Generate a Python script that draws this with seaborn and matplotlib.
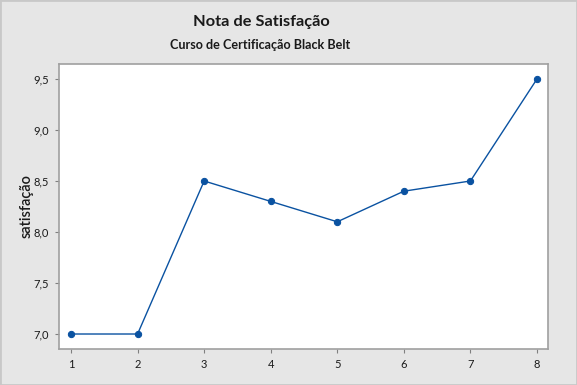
import matplotlib
matplotlib.use("Agg")
import matplotlib.pyplot as plt
import seaborn as sns
import pandas as pd
from matplotlib.ticker import FuncFormatter
from matplotlib.patches import Rectangle

x_vals = [1, 2, 3, 4, 5, 6, 7, 8]
satisfacao = [7.0, 7.0, 8.5, 8.3, 8.1, 8.4, 8.5, 9.5]
y_ticks = [7.0, 7.5, 8.0, 8.5, 9.0, 9.5]

df = pd.DataFrame({"x": x_vals, "satisfação": satisfacao})

sns.set_theme(style="white")
plt.rcParams['font.family'] = ['Lato', 'DejaVu Sans']

bg = "#e6e6e6"
fig = plt.figure(figsize=(5.77, 3.85), dpi=100, facecolor=bg)
fig.patches.append(Rectangle((0, 0), 1, 1, transform=fig.transFigure, fill=False,
                             edgecolor="#c8c8c8", linewidth=2, zorder=10))
ax = fig.add_axes([0.1023, 0.0935, 0.8474, 0.7403])
ax.set_facecolor("white")

color = "#0a52a1"
sns.lineplot(data=df, x="x", y="satisfação", ax=ax, color=color, linewidth=1.0,
             marker="o", markersize=4.5, markeredgecolor=color, markerfacecolor=color)

ax.set_xlim(0.82, 8.165)
ax.set_ylim(6.853, 9.647)
ax.set_xticks(x_vals)
ax.set_yticks(y_ticks)
ax.yaxis.set_major_formatter(FuncFormatter(lambda v, p: f"{v:.1f}".replace(".", ",")))
ax.set_xlabel("")
ax.set_ylabel("satisfação", fontsize=10.5, color="#1a1a1a", fontweight="semibold")
ax.yaxis.set_label_coords(-0.052, 0.5)

for s in ax.spines.values():
    s.set_visible(True)
    s.set_color("#a0a0a0")
    s.set_linewidth(1.2)
ax.tick_params(axis="both", which="major", length=3, width=0.8, color="#808080",
               labelsize=8, labelcolor="#1a1a1a", direction="out", bottom=True, left=True, pad=4)

fig.text(0.4525, 0.943, "Nota de Satisfação", ha="center", va="center",
         fontsize=11.8, fontweight="bold", color="#1a1a1a")
fig.text(0.4515, 0.883, "Curso de Certificação Black Belt", ha="center", va="center",
         fontsize=9.1, fontweight="bold", color="#1a1a1a")

fig.savefig("out.png", dpi=100, facecolor=bg)
